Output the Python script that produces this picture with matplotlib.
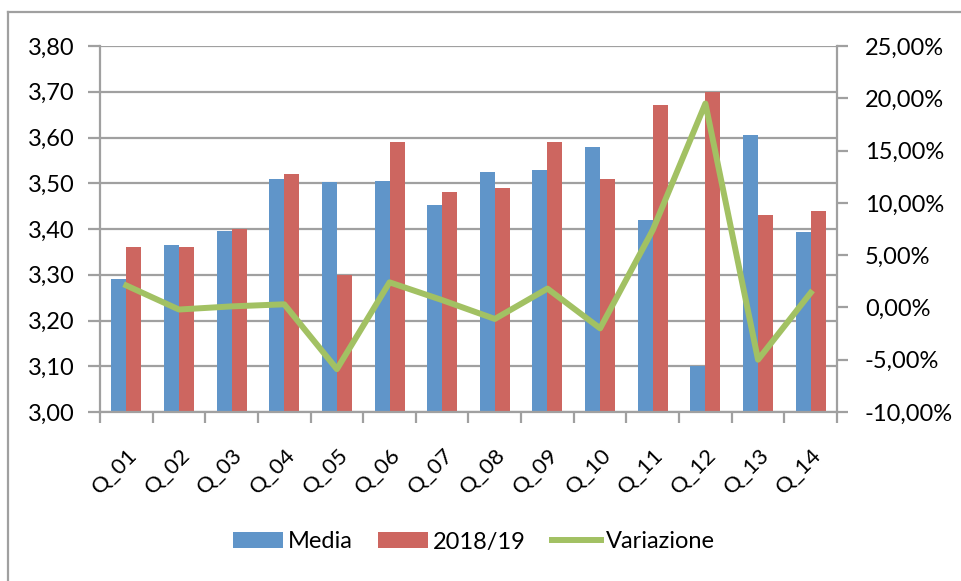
import numpy as np
import matplotlib
matplotlib.use("Agg")
import matplotlib.pyplot as plt
from matplotlib.lines import Line2D
from matplotlib.ticker import FuncFormatter, MultipleLocator

categories = ["Q_01", "Q_02", "Q_03", "Q_04", "Q_05", "Q_06", "Q_07",
              "Q_08", "Q_09", "Q_10", "Q_11", "Q_12", "Q_13", "Q_14"]
media = [3.29, 3.365, 3.395, 3.51, 3.503, 3.505, 3.452,
         3.525, 3.53, 3.58, 3.42, 3.10, 3.606, 3.393]
anno_1819 = [3.36, 3.36, 3.40, 3.52, 3.30, 3.59, 3.48,
             3.49, 3.59, 3.51, 3.67, 3.70, 3.43, 3.44]
variazione = [2.1, -0.2, 0.1, 0.3, -5.9, 2.4, 0.7,
              -1.1, 1.8, -2.0, 7.4, 19.5, -5.0, 1.4]

BLUE = "#6095C9"
RED = "#CD6660"
GREEN = "#A2C163"
GRID = "#A0A0A0"

plt.rcParams["font.family"] = ["Lato", "DejaVu Sans"]
plt.rcParams["font.size"] = 17

W, H = 962, 581
fig = plt.figure(figsize=(W / 100, H / 100), dpi=100)
ax = fig.add_axes([100 / W, 1 - 412 / H, 737 / W, 366 / H])

x = np.arange(len(categories))
bw = 0.285
ax.bar(x - bw / 2, media, bw, color=BLUE, label="Media", zorder=2)
ax.bar(x + bw / 2, anno_1819, bw, color=RED, label="2018/19", zorder=2)

ax.set_ylim(3.0, 3.8)
ax.set_xlim(-0.5, len(categories) - 0.5)
ax.yaxis.set_major_locator(MultipleLocator(0.1))
ax.yaxis.set_major_formatter(FuncFormatter(lambda v, p: f"{v:.2f}".replace(".", ",")))
ax.grid(axis="y", color=GRID, linewidth=1.6, zorder=0)
ax.set_axisbelow(True)

ax.set_xticks(x)
ax.set_xticklabels(categories, rotation=45, ha="right", va="top",
                   rotation_mode="anchor", fontsize=16)
ax.set_xticks(np.arange(-0.5, len(categories)), minor=True)
ax.tick_params(axis="x", which="major", length=0, pad=24)
ax.tick_params(axis="x", which="minor", length=8, width=1.6, color=GRID)
ax.tick_params(axis="y", length=9, width=1.6, color=GRID, pad=9)

for s in ["top", "right"]:
    ax.spines[s].set_visible(False)
for s in ["left", "bottom"]:
    ax.spines[s].set_color(GRID)
    ax.spines[s].set_linewidth(1.6)

ax2 = ax.twinx()
ax2.plot(x, variazione, color=GREEN, linewidth=4.3, label="Variazione", zorder=3)
ax2.set_ylim(-10, 25)
ax2.yaxis.set_major_locator(MultipleLocator(5))
ax2.yaxis.set_major_formatter(FuncFormatter(lambda v, p: f"{v:.2f}%".replace(".", ",")))
ax2.tick_params(axis="y", length=8, width=1.6, color=GRID, pad=12)
for s in ["top", "left", "bottom"]:
    ax2.spines[s].set_visible(False)
ax2.spines["right"].set_color(GRID)
ax2.spines["right"].set_linewidth(1.6)

h1, l1 = ax.get_legend_handles_labels()
h2, l2 = ax2.get_legend_handles_labels()
fig.legend(h1 + h2, l1 + l2, loc="center", bbox_to_anchor=(474 / W, 1 - 542 / H),
           ncol=3, frameon=False, handlelength=2.1, handleheight=0.65,
           handletextpad=0.2, columnspacing=1.1, fontsize=17)

# outer chart frame (left and top edges)
fig.add_artist(Line2D([8 / W, 8 / W], [0, 1 - 12 / H], color=GRID, linewidth=1.6))
fig.add_artist(Line2D([8 / W, 1], [1 - 12 / H, 1 - 12 / H], color=GRID, linewidth=1.6))

fig.savefig("out.png", dpi=100)
